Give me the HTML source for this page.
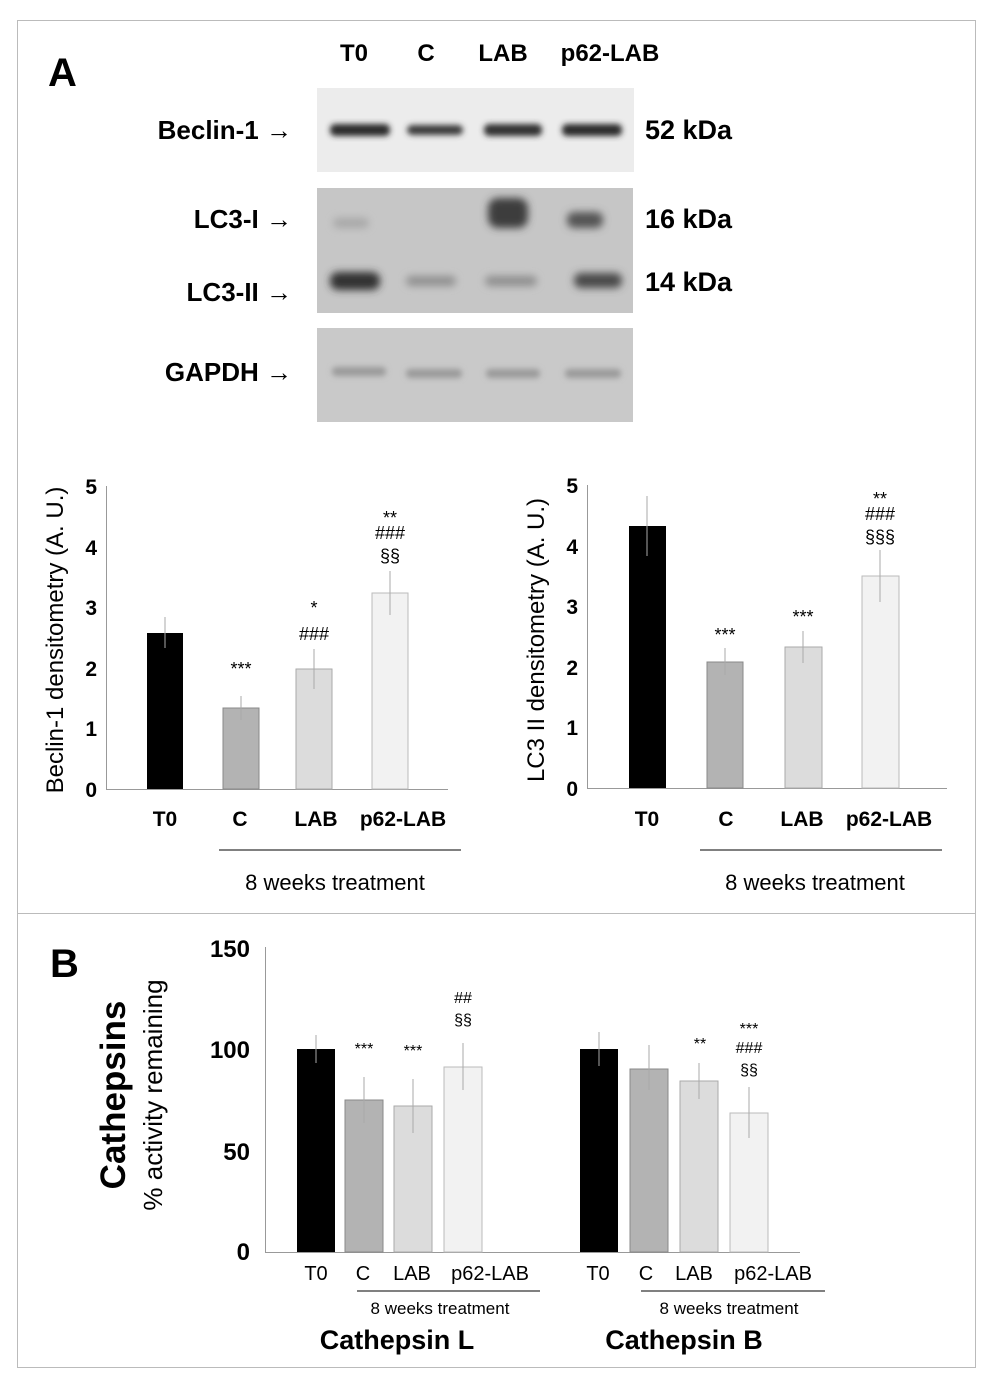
<!DOCTYPE html>
<html><head><meta charset="utf-8"><style>
html,body{margin:0;padding:0;background:#fff;}
svg{display:block;font-family:"Liberation Sans",Arial,sans-serif;}
.b{font-weight:bold;}
</style></head><body>
<svg width="992" height="1387" viewBox="0 0 992 1387" xmlns="http://www.w3.org/2000/svg">
<defs>
<filter id="blur" x="-20%" y="-50%" width="140%" height="200%"><feGaussianBlur stdDeviation="3"/></filter>
<filter id="blur2" x="-20%" y="-50%" width="140%" height="200%"><feGaussianBlur stdDeviation="4"/></filter>
</defs>
<rect x="17.5" y="20.5" width="958" height="1347" fill="none" stroke="#bbb" stroke-width="1"/>
<line x1="17" y1="913.5" x2="976" y2="913.5" stroke="#bbb"/>

<!-- Panel A header -->
<text x="48" y="86" class="b" font-size="40">A</text>
<g class="b" font-size="24" text-anchor="middle">
<text x="354" y="61">T0</text><text x="426" y="61">C</text><text x="503" y="61">LAB</text><text x="610" y="61">p62-LAB</text>
</g>
<g class="b" font-size="26" text-anchor="end">
<text x="292" y="139">Beclin-1 →</text>
<text x="292" y="228">LC3-I  →</text>
<text x="292" y="301">LC3-II →</text>
<text x="292" y="381">GAPDH →</text>
</g>
<g class="b" font-size="27">
<text x="645" y="139">52 kDa</text>
<text x="645" y="228">16 kDa</text>
<text x="645" y="291">14 kDa</text>
</g>

<!-- blots -->
<rect x="317" y="88" width="317" height="84" fill="#ececec"/>
<g filter="url(#blur)" fill="#2a2a2a">
<rect x="330" y="124" width="60" height="12" rx="5"/>
<rect x="407" y="125" width="56" height="10" rx="5" fill="#3a3a3a"/>
<rect x="484" y="124" width="58" height="12" rx="5" fill="#333"/>
<rect x="562" y="124" width="60" height="12" rx="5"/>
</g>
<rect x="317" y="188" width="316" height="125" fill="#c6c6c6"/>
<g filter="url(#blur2)">
<rect x="333" y="218" width="36" height="10" rx="5" fill="#a8a8a8"/>
<rect x="488" y="198" width="40" height="30" rx="10" fill="#3c3c3c"/>
<rect x="567" y="212" width="36" height="16" rx="7" fill="#555"/>
<rect x="330" y="272" width="50" height="18" rx="8" fill="#333"/>
<rect x="406" y="276" width="50" height="10" rx="5" fill="#909090"/>
<rect x="485" y="276" width="52" height="10" rx="5" fill="#8e8e8e"/>
<rect x="574" y="273" width="48" height="15" rx="7" fill="#4a4a4a"/>
</g>
<rect x="317" y="328" width="316" height="94" fill="#c9c9c9"/>
<g filter="url(#blur)" fill="#9a9a9a">
<rect x="332" y="367" width="54" height="9" rx="4"/>
<rect x="406" y="369" width="56" height="9" rx="4"/>
<rect x="486" y="369" width="54" height="9" rx="4"/>
<rect x="565" y="369" width="56" height="9" rx="4"/>
</g>

<!-- Chart 1 -->
<g font-size="21" class="b" text-anchor="end">
<text x="97" y="797">0</text><text x="97" y="736">1</text><text x="97" y="676">2</text><text x="97" y="615">3</text><text x="97" y="555">4</text><text x="97" y="494">5</text>
</g>
<line x1="106.5" y1="486" x2="106.5" y2="789" stroke="#999"/>
<line x1="106" y1="789.5" x2="448" y2="789.5" stroke="#999"/>
<text transform="translate(63,640) rotate(-90)" font-size="24" text-anchor="middle">Beclin-1 densitometry (A. U.)</text>
<rect x="147" y="633" width="36" height="156" fill="#000"/>
<rect x="223" y="708" width="36" height="81" fill="#b3b3b3" stroke="#888"/>
<rect x="296" y="669" width="36" height="120" fill="#dcdcdc" stroke="#aaa"/>
<rect x="372" y="593" width="36" height="196" fill="#f2f2f2" stroke="#bbb"/>
<g stroke="#aaa">
<line x1="165" y1="617" x2="165" y2="648"/><line x1="241" y1="696" x2="241" y2="720"/><line x1="314" y1="649" x2="314" y2="689"/><line x1="390" y1="571" x2="390" y2="615"/>
</g>
<g font-size="18" text-anchor="middle">
<text x="241" y="675">***</text>
<text x="314" y="614">*</text><text x="314" y="640">###</text>
<text x="390" y="524">**</text><text x="390" y="539">###</text><text x="390" y="562">§§</text>
</g>
<g font-size="21" class="b" text-anchor="middle">
<text x="165" y="826">T0</text><text x="240" y="826">C</text><text x="316" y="826">LAB</text><text x="403" y="826">p62-LAB</text>
</g>
<line x1="219" y1="850" x2="461" y2="850" stroke="#000"/>
<text x="335" y="890" font-size="22" text-anchor="middle">8 weeks treatment</text>

<!-- Chart 2 -->
<g font-size="21" class="b" text-anchor="end">
<text x="578" y="796">0</text><text x="578" y="735">1</text><text x="578" y="675">2</text><text x="578" y="614">3</text><text x="578" y="554">4</text><text x="578" y="493">5</text>
</g>
<line x1="587.5" y1="485" x2="587.5" y2="788" stroke="#999"/>
<line x1="587" y1="788.5" x2="947" y2="788.5" stroke="#999"/>
<text transform="translate(544,640) rotate(-90)" font-size="24" text-anchor="middle">LC3 II densitometry (A. U.)</text>
<rect x="629" y="526" width="37" height="262" fill="#000"/>
<rect x="707" y="662" width="36" height="126" fill="#b3b3b3" stroke="#888"/>
<rect x="785" y="647" width="37" height="141" fill="#dcdcdc" stroke="#aaa"/>
<rect x="862" y="576" width="37" height="212" fill="#f2f2f2" stroke="#bbb"/>
<g stroke="#aaa">
<line x1="647" y1="496" x2="647" y2="556"/><line x1="725" y1="648" x2="725" y2="675"/><line x1="803" y1="631" x2="803" y2="663"/><line x1="880" y1="550" x2="880" y2="602"/>
</g>
<g font-size="18" text-anchor="middle">
<text x="725" y="641">***</text>
<text x="803" y="623">***</text>
<text x="880" y="505">**</text><text x="880" y="520">###</text><text x="880" y="543">§§§</text>
</g>
<g font-size="21" class="b" text-anchor="middle">
<text x="647" y="826">T0</text><text x="726" y="826">C</text><text x="802" y="826">LAB</text><text x="889" y="826">p62-LAB</text>
</g>
<line x1="700" y1="850" x2="942" y2="850" stroke="#000"/>
<text x="815" y="890" font-size="22" text-anchor="middle">8 weeks treatment</text>

<!-- Panel B -->
<text x="50" y="977" class="b" font-size="40">B</text>
<text transform="translate(125,1095) rotate(-90)" font-size="35" class="b" text-anchor="middle">Cathepsins</text>
<text transform="translate(162,1095) rotate(-90)" font-size="26" text-anchor="middle">% activity remaining</text>
<g font-size="24" class="b" text-anchor="end">
<text x="250" y="1260">0</text><text x="250" y="1160">50</text><text x="250" y="1058">100</text><text x="250" y="957">150</text>
</g>
<line x1="265.5" y1="947" x2="265.5" y2="1252" stroke="#999"/>
<line x1="265" y1="1252.5" x2="800" y2="1252.5" stroke="#999"/>
<rect x="297" y="1049" width="38" height="203" fill="#000"/>
<rect x="345" y="1100" width="38" height="152" fill="#b3b3b3" stroke="#888"/>
<rect x="394" y="1106" width="38" height="146" fill="#dcdcdc" stroke="#aaa"/>
<rect x="444" y="1067" width="38" height="185" fill="#f2f2f2" stroke="#bbb"/>
<rect x="580" y="1049" width="38" height="203" fill="#000"/>
<rect x="630" y="1069" width="38" height="183" fill="#b3b3b3" stroke="#888"/>
<rect x="680" y="1081" width="38" height="171" fill="#dcdcdc" stroke="#aaa"/>
<rect x="730" y="1113" width="38" height="139" fill="#f2f2f2" stroke="#bbb"/>
<g stroke="#aaa">
<line x1="316" y1="1035" x2="316" y2="1063"/><line x1="364" y1="1077" x2="364" y2="1123"/><line x1="413" y1="1079" x2="413" y2="1133"/><line x1="463" y1="1043" x2="463" y2="1090"/>
<line x1="599" y1="1032" x2="599" y2="1066"/><line x1="649" y1="1045" x2="649" y2="1090"/><line x1="699" y1="1063" x2="699" y2="1099"/><line x1="749" y1="1087" x2="749" y2="1138"/>
</g>
<g font-size="16" text-anchor="middle">
<text x="364" y="1054">***</text><text x="413" y="1056">***</text>
<text x="463" y="1003">##</text><text x="463" y="1025">§§</text>
<text x="700" y="1049">**</text>
<text x="749" y="1034">***</text><text x="749" y="1053">###</text><text x="749" y="1075">§§</text>
</g>
<g font-size="20" text-anchor="middle">
<text x="316" y="1280">T0</text><text x="363" y="1280">C</text><text x="412" y="1280">LAB</text><text x="490" y="1280">p62-LAB</text>
<text x="598" y="1280">T0</text><text x="646" y="1280">C</text><text x="694" y="1280">LAB</text><text x="773" y="1280">p62-LAB</text>
</g>
<line x1="357" y1="1291" x2="540" y2="1291" stroke="#000"/>
<line x1="641" y1="1291" x2="825" y2="1291" stroke="#000"/>
<g font-size="17" text-anchor="middle">
<text x="440" y="1314">8 weeks treatment</text><text x="729" y="1314">8 weeks treatment</text>
</g>
<g font-size="27" class="b" text-anchor="middle">
<text x="397" y="1349">Cathepsin L</text><text x="684" y="1349">Cathepsin B</text>
</g>
</svg>
</body></html>
